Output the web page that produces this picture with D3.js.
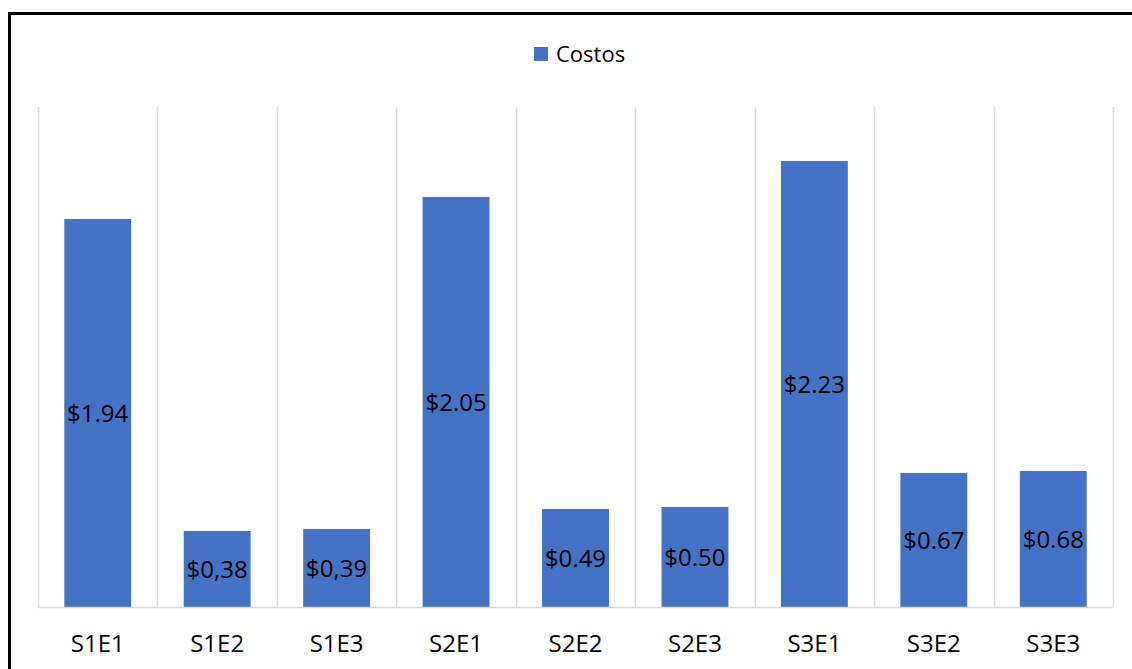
<!DOCTYPE html>
<html>
<head>
<meta charset="utf-8">
<script src="https://cdn.jsdelivr.net/npm/d3@7"></script>
<style>
  html, body { margin: 0; padding: 0; background: #fff; }
  svg { display: block; }
  text { font-family: "Open Sans", Carlito, Lato, sans-serif; fill: #000; }
</style>
</head>
<body>
<svg id="chart" width="1132" height="669"></svg>
<script>
// Cost per scenario
const categories = ["S1E1", "S1E2", "S1E3", "S2E1", "S2E2", "S2E3", "S3E1", "S3E2", "S3E3"];
const costs = [1.94, 0.38, 0.39, 2.05, 0.49, 0.50, 2.23, 0.67, 0.68];
const costLabels = ["$1.94", "$0,38", "$0,39", "$2.05", "$0.49", "$0.50", "$2.23", "$0.67", "$0.68"];
const seriesName = "Costos";
const yDomain = [0, 2.5];

const svg = d3.select("#chart");
const W = 1132, H = 669;
const margin = { left: 38, right: 19, top: 107, bottom: 62 };
const barColor = "#4472C4";
const gridColor = "#D9D9D9";
const fontStack = "'Open Sans', Carlito, Lato, sans-serif";

// Outer frame (extends past the right and bottom edges)
svg.append("rect")
  .attr("x", 9.5).attr("y", 13.5)
  .attr("width", W + 20).attr("height", H + 20)
  .attr("fill", "none")
  .attr("stroke", "#000")
  .attr("stroke-width", 3);

const x = d3.scaleBand()
  .domain(categories)
  .range([margin.left, W - margin.right])
  .paddingInner(0.44)
  .paddingOuter(0.22);

const xBand = d3.scaleBand()
  .domain(categories)
  .range([margin.left, W - margin.right]);

const y = d3.scaleLinear()
  .domain(yDomain)
  .range([H - margin.bottom, margin.top]);

// Vertical category separators
const bounds = categories.map(c => xBand(c)).concat([W - margin.right]);
svg.append("g")
  .selectAll("line")
  .data(bounds)
  .join("line")
  .attr("x1", d => Math.round(d) + 0.5)
  .attr("x2", d => Math.round(d) + 0.5)
  .attr("y1", y(yDomain[1]))
  .attr("y2", y(0))
  .attr("stroke", gridColor)
  .attr("stroke-width", 1.5);

// Bars
svg.append("g")
  .selectAll("rect")
  .data(costs)
  .join("rect")
  .attr("x", (d, i) => x(categories[i]))
  .attr("width", x.bandwidth())
  .attr("y", d => y(d))
  .attr("height", d => y(0) - y(d))
  .attr("fill", barColor);

// Baseline
svg.append("line")
  .attr("x1", margin.left).attr("x2", W - margin.right)
  .attr("y1", y(0) + 0.5).attr("y2", y(0) + 0.5)
  .attr("stroke", gridColor)
  .attr("stroke-width", 1.5);

// Value labels, centred inside each bar
svg.append("g")
  .selectAll("text")
  .data(costs)
  .join("text")
  .attr("x", (d, i) => x(categories[i]) + x.bandwidth() / 2)
  .attr("y", d => (y(d) + y(0)) / 2)
  .attr("dy", "0.36em")
  .attr("text-anchor", "middle")
  .attr("font-size", 24)
  .text((d, i) => costLabels[i]);

// Category axis
const xAxis = d3.axisBottom(xBand).tickSize(0).tickPadding(28);
const axisG = svg.append("g")
  .attr("transform", `translate(0,${y(0)})`)
  .call(xAxis);
axisG.select(".domain").remove();
axisG.selectAll("text")
  .attr("font-size", 24)
  .style("font-family", fontStack)
  .attr("fill", "#000");

// Legend
const legend = svg.append("g").attr("transform", "translate(534,47)");
legend.append("rect")
  .attr("width", 14).attr("height", 14)
  .attr("fill", barColor);
legend.append("text")
  .attr("x", 22).attr("y", 7)
  .attr("dy", "0.36em")
  .attr("font-size", 22)
  .text(seriesName);
</script>
</body>
</html>
